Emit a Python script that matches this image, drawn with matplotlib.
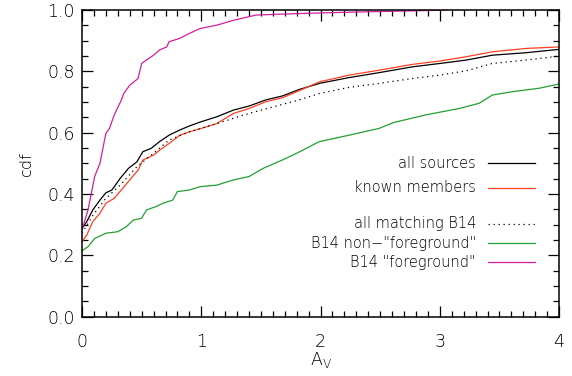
import matplotlib
matplotlib.use("Agg")
import matplotlib.pyplot as plt
from matplotlib import font_manager
from matplotlib.ticker import MultipleLocator

# values (A_V, cdf)
av_fg = [0, 0.05, 0.106, 0.15, 0.2, 0.23, 0.27, 0.33, 0.35, 0.40, 0.47, 0.50, 0.54, 0.60,
         0.65, 0.71, 0.73, 0.82, 0.90, 0.99, 1.13, 1.27, 1.46, 1.82, 2.2, 3.05]
cdf_fg = [0.283, 0.348, 0.457, 0.50, 0.598, 0.614, 0.658, 0.707, 0.728, 0.755, 0.777, 0.826,
          0.837, 0.853, 0.870, 0.880, 0.897, 0.908, 0.924, 0.940, 0.951, 0.967, 0.984, 0.989,
          0.993, 1.0]

av_all = [0, 0.04, 0.09, 0.15, 0.2, 0.25, 0.32, 0.39, 0.46, 0.51, 0.58, 0.65, 0.73, 0.82,
          0.90, 1.0, 1.13, 1.27, 1.40, 1.54, 1.68, 1.82, 1.99, 2.24, 2.49, 2.77, 3.0, 3.22,
          3.44, 3.72, 4.0]
cdf_all = [0.288, 0.31, 0.348, 0.38, 0.404, 0.413, 0.451, 0.484, 0.505, 0.538, 0.549, 0.571,
           0.592, 0.609, 0.622, 0.636, 0.652, 0.674, 0.687, 0.707, 0.720, 0.741, 0.761, 0.780,
           0.796, 0.815, 0.826, 0.837, 0.853, 0.861, 0.872]

av_mem = [0, 0.04, 0.09, 0.15, 0.2, 0.27, 0.34, 0.40, 0.47, 0.51, 0.60, 0.65, 0.73, 0.82,
          0.90, 1.0, 1.13, 1.27, 1.40, 1.54, 1.68, 1.82, 1.99, 2.24, 2.49, 2.77, 3.0, 3.22,
          3.44, 3.72, 4.0]
cdf_mem = [0.245, 0.266, 0.31, 0.337, 0.37, 0.386, 0.418, 0.446, 0.478, 0.511, 0.527, 0.543,
           0.565, 0.592, 0.603, 0.614, 0.630, 0.663, 0.679, 0.701, 0.714, 0.737, 0.766, 0.788,
           0.804, 0.823, 0.834, 0.848, 0.864, 0.875, 0.880]

av_b14 = [0, 0.09, 0.2, 0.32, 0.46, 0.6, 0.73, 0.90, 1.13, 1.40, 1.656, 1.82, 1.99, 2.24,
          2.49, 2.77, 3.0, 3.22, 3.44, 3.72, 4.0]
cdf_b14 = [0.272, 0.33, 0.386, 0.429, 0.489, 0.533, 0.576, 0.603, 0.630, 0.663, 0.690, 0.707,
           0.728, 0.748, 0.761, 0.777, 0.788, 0.802, 0.826, 0.837, 0.850]

av_nonfg = [0, 0.05, 0.106, 0.2, 0.3, 0.37, 0.43, 0.5, 0.54, 0.62, 0.68, 0.76, 0.80, 0.90,
            0.99, 1.13, 1.27, 1.40, 1.52, 1.68, 1.80, 1.99, 2.24, 2.49, 2.61, 2.88, 3.16,
            3.33, 3.44, 3.61, 3.83, 4.0]
cdf_nonfg = [0.215, 0.228, 0.255, 0.272, 0.277, 0.293, 0.315, 0.321, 0.348, 0.359, 0.370,
             0.380, 0.408, 0.413, 0.424, 0.429, 0.446, 0.457, 0.484, 0.511, 0.533, 0.571,
             0.592, 0.614, 0.633, 0.658, 0.679, 0.696, 0.723, 0.734, 0.745, 0.759]

red = '#ff4020'
green = '#22a032'
magenta = '#d0209f'

# thin IDL-like lettering if a light face is around
light = [f.name for f in font_manager.fontManager.ttflist
         if f.name == 'DejaVu Sans' and f.weight in (200, 'extra light', 'ultralight')]
w = 200 if light else 'normal'
plt.rcParams['font.family'] = ['DejaVu Sans']
plt.rcParams['font.weight'] = w
plt.rcParams['axes.labelweight'] = w
plt.rcParams['mathtext.default'] = 'regular'

fig = plt.figure(figsize=(5.72, 3.76), dpi=100)
ax = fig.add_axes([0.1434, 0.158, 0.834, 0.815])

ax.plot(av_all, cdf_all, color='black', lw=0.9)
ax.plot(av_mem, cdf_mem, color=red, lw=0.9)
ax.plot(av_b14, cdf_b14, color='black', lw=0.9, ls=(0, (1, 3)))
ax.plot(av_nonfg, cdf_nonfg, color=green, lw=0.9)
ax.plot(av_fg, cdf_fg, color=magenta, lw=0.9)

ax.set_xlim(0, 4)
ax.set_ylim(0, 1.0)
ax.xaxis.set_major_locator(MultipleLocator(1))
ax.xaxis.set_minor_locator(MultipleLocator(0.1))
ax.yaxis.set_major_locator(MultipleLocator(0.2))
ax.yaxis.set_minor_locator(MultipleLocator(0.05))
ax.yaxis.set_major_formatter(plt.FormatStrFormatter('%.1f'))
ax.tick_params(which='both', direction='in', top=True, right=True, labelsize=12.5, width=0.9)
ax.tick_params(which='major', length=8)
ax.tick_params(which='minor', length=4)
ax.tick_params(axis='x', pad=12)
ax.tick_params(axis='y', pad=5)
for s in ax.spines.values():
    s.set_linewidth(1.1)

ax.set_ylabel('cdf', fontsize=11.5, labelpad=10)
ax.set_xlabel('A$_V$', fontsize=12.5, labelpad=-1)

# legend drawn by hand: text on the left, line sample on the right
labels = ['all sources', 'known members', 'all matching B14',
          'B14 non\u2212"foreground"', 'B14 "foreground"']
styles = [('black', '-'), (red, '-'), ('black', (0, (1, 3))), (green, '-'), (magenta, '-')]
ypos = [0.501, 0.420, 0.303, 0.240, 0.178]
for lab, (c, ls), yy in zip(labels, styles, ypos):
    ax.text(0.826, yy, lab, transform=ax.transAxes, ha='right', va='center', fontsize=10.5)
    ax.plot([0.851, 0.950], [yy, yy], transform=ax.transAxes, color=c, ls=ls, lw=0.9)

fig.savefig('out.png', dpi=100)
